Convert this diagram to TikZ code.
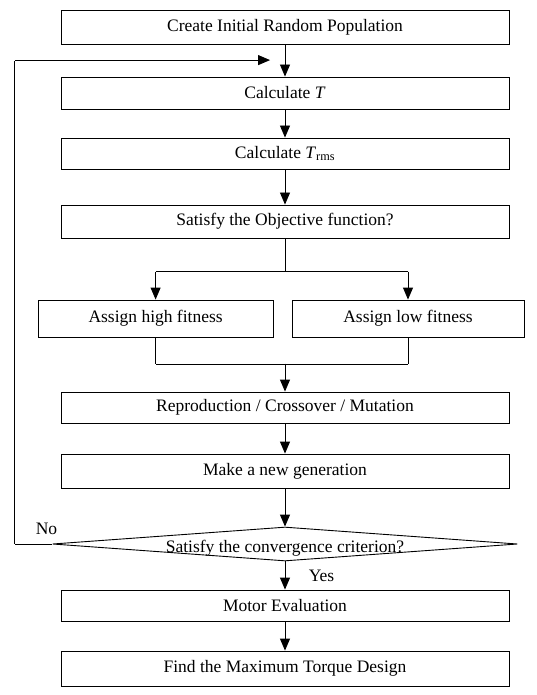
\documentclass[tikz,border=0pt]{standalone}
\usepackage{fontspec}
\setmainfont{Liberation Serif}
\usepackage{tikz}
\usetikzlibrary{positioning,shapes.geometric,arrows.meta}

\begin{document}
\begin{tikzpicture}[ squarednode/.style={rectangle, draw=black, minimum width=448pt, minimum height=32pt, inner sep=0pt}, fitnessnode/.style={rectangle, draw=black, minimum height=37pt, inner sep=0pt}, decisionnode/.style={diamond, draw=black, aspect=14, minimum width=465pt, minimum height=34pt, inner xsep=0pt, inner ysep=-4.5pt, text height=21pt, text depth=4pt}, >={Triangle[length=12pt,width=10pt]}, line width=0.9pt]

\tikzstyle{every node}=[font=\fontsize{17.5}{20}\selectfont]

\useasboundingbox (-285pt,27pt) rectangle (252pt,-668pt);

%Nodes
\node[squarednode, minimum height=34pt]      (init)   {Create Initial Random Population};
\node[squarednode]      (calcT)  [below=32.1pt of init] {Calculate \textit{T}};
\node[squarednode, minimum height=31pt]      (calcTrms)  [below=28.1pt of calcT] {Calculate \textit{T}\textsubscript{rms}};
\node[squarednode, minimum height=33pt]      (objfun)  [below=35.1pt of calcTrms] {Satisfy the Objective function?};
\node[fitnessnode, minimum width=235pt]      (high)  [below left=61.1pt and -213pt of objfun] {Assign high fitness};
\node[fitnessnode, minimum width=232pt]      (low)  [right=18pt of high] {Assign low fitness};
\node[squarednode, minimum height=31pt]      (repro)  [below=153.1pt of objfun] {Reproduction / Crossover / Mutation};
\node[squarednode, minimum height=34pt]      (newgen)  [below=30.1pt of repro] {Make a new generation};
\node[decisionnode]      (conv)  [below=38.1pt of newgen] {Satisfy the convergence criterion?};
\node[squarednode, minimum height=31pt]      (motor)  [below=28.1pt of conv] {Motor Evaluation};
\node[squarednode, minimum height=35pt]      (final)  [below=29.1pt of motor] {Find the Maximum Torque Design};
\node[inner sep=0, minimum size=0, below=33.5pt of objfun] (b) {}; % invisible node
\node[inner sep=0, minimum size=0, above=28pt of high] (bl) {}; % invisible node
\node[inner sep=0, minimum size=0, above=28pt of low] (br) {}; % invisible node
\node[inner sep=0, minimum size=0, below=27pt of high] (jl) {}; % invisible node
\node[inner sep=0, minimum size=0, below=27pt of low] (jr) {}; % invisible node
\node[inner sep=0, minimum size=0, above=28pt of repro] (j) {}; % invisible node
\node[inner sep=0, minimum size=0, left=37pt of conv] (fb) {}; % invisible node
\node[inner sep=0, minimum size=0, above=483pt of fb] (fc) {}; % invisible node
\node[inner sep=0, minimum size=0, right=255pt of fc] (fd) {}; % invisible node

%Lines
\draw[->] (init.south) -- (calcT.north);
\draw[->] (calcT.south) -- (calcTrms.north);
\draw[->] (calcTrms.south) -- (objfun.north);
\draw[-] (objfun.south) -- (b);
\draw[-] (bl) -- (br);
\draw[->] (bl) -- (high.north);
\draw[->] (br) -- (low.north);
\draw[-] (high.south) -- (jl);
\draw[-] (low.south) -- (jr);
\draw[-] (jl) -- (jr);
\draw[->] (j) -- (repro.north);
\draw[->] (repro.south) -- (newgen.north);
\draw[->] (newgen.south) -- (conv.north);
\draw[->] (conv.south) -- (motor.north) node[midway, right=20pt] {Yes};
\draw[->] (motor.south) -- (final.north);
\draw[-] (conv.west) -- (fb) node[pos=0.15, above=6pt] {No};
\draw[-] (fb) -- (fc);
\draw[->] (fc) -- (fd);

\end{tikzpicture}
\end{document}
